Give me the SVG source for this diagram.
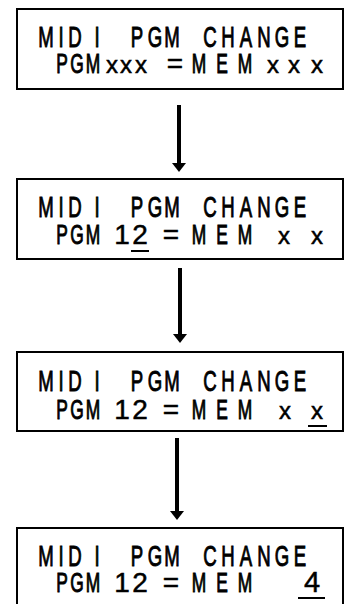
<svg xmlns="http://www.w3.org/2000/svg" width="347" height="604" viewBox="0 0 347 604">
<defs>
<style>
.box{fill:#fff;stroke:#000;stroke-width:2}
.c1{font-family:"Liberation Sans",Arial,sans-serif;font-size:30px;fill:#000;stroke:#000;stroke-width:1;text-anchor:middle}
.c2{font-family:"Liberation Sans",Arial,sans-serif;font-size:28px;fill:#000;stroke:#000;stroke-width:1;text-anchor:middle}
.d{font-family:"Liberation Sans",Arial,sans-serif;font-size:28px;fill:#000;stroke:#000;stroke-width:0.5;text-anchor:middle}
.xs{font-size:24px;stroke-width:0.5}
.ul{stroke:#000;stroke-width:2}
.shaft{stroke:#000;stroke-width:4}
.head{fill:#000}
</style>
</defs>
<rect width="347" height="604" fill="#fff"/>
<g id="connectors">
<line class="shaft" x1="179" y1="105" x2="179" y2="164"/>
<path class="head" d="M172,163 L186,163 L179,172 Z"/>
<line class="shaft" x1="180" y1="268" x2="180" y2="335"/>
<path class="head" d="M173,334 L187,334 L180,343 Z"/>
<line class="shaft" x1="177" y1="438" x2="177" y2="512"/>
<path class="head" d="M170,511 L184,511 L177,520 Z"/>
</g>
<g id="node1">
<rect class="box" x="17" y="9" width="326" height="80"/>
<g transform="scale(0.62,1)">
<text class="c1" y="47" x="74.19 98.39 120.97 156.45 220.97 250 277.42 338.71 367.74 396.77 425.81 454.84 483.87">MIDIPGMCHANGE</text>
<text class="c2" y="73" x="100 124.19 150 320.97 358.06 395.16">PGMMEM</text>
</g>
<text class="d" y="73"><tspan class="xs" x="112 126 141">xxx</tspan><tspan x="175">=</tspan><tspan class="xs" x="273 294 317">xxx</tspan></text>
</g>
<g id="node2">
<rect class="box" x="17" y="179" width="326" height="80"/>
<g transform="scale(0.62,1)">
<text class="c1" y="217" x="74.19 98.39 120.97 156.45 220.97 250 277.42 338.71 367.74 396.77 425.81 454.84 483.87">MIDIPGMCHANGE</text>
<text class="c2" y="244" x="100 124.19 150 320.97 358.06 395.16">PGMMEM</text>
</g>
<text class="d" y="244"><tspan x="122 140 171">12=</tspan><tspan class="xs" x="284 317">xx</tspan></text>
<line class="ul" x1="131" y1="251" x2="149" y2="251"/>
</g>
<g id="node3">
<rect class="box" x="17" y="352" width="326" height="79"/>
<g transform="scale(0.62,1)">
<text class="c1" y="391" x="74.19 98.39 120.97 156.45 220.97 250 277.42 338.71 367.74 396.77 425.81 454.84 483.87">MIDIPGMCHANGE</text>
<text class="c2" y="419" x="100 124.19 150 320.97 358.06 395.16">PGMMEM</text>
</g>
<text class="d" y="419"><tspan x="122 140 171">12=</tspan><tspan class="xs" x="285 317">xx</tspan></text>
<line class="ul" x1="308" y1="426" x2="327" y2="426"/>
</g>
<g id="node4">
<rect class="box" x="17" y="528" width="326" height="82"/>
<g transform="scale(0.62,1)">
<text class="c1" y="566" x="74.19 98.39 120.97 156.45 220.97 250 277.42 338.71 367.74 396.77 425.81 454.84 483.87">MIDIPGMCHANGE</text>
<text class="c2" y="592" x="100 124.19 150 320.97 358.06 395.16">PGMMEM</text>
</g>
<text class="d" y="592"><tspan x="122 140 171">12=</tspan><tspan x="312" style="font-size:29px">4</tspan></text>
<line class="ul" x1="298" y1="598" x2="325" y2="598"/>
</g>
</svg>
